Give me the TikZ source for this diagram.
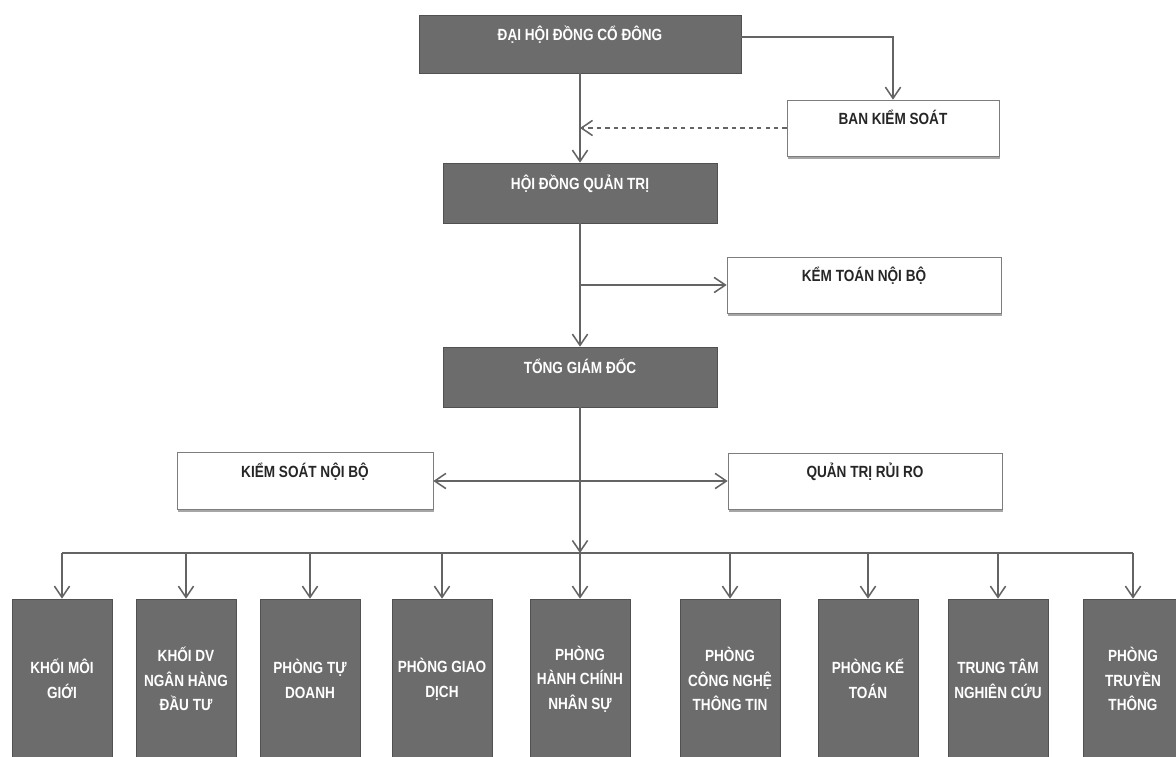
\documentclass[tikz,border=0pt]{standalone}
\usepackage{fontspec}
\setmainfont{Liberation Sans}[FakeStretch=0.84]
\usetikzlibrary{arrows.meta,shadows}

\definecolor{boxgray}{RGB}{108,108,108}
\definecolor{linegray}{RGB}{100,100,100}
\definecolor{edgegray}{RGB}{125,125,125}

\tikzset{
  darkbox/.style={draw=boxgray!75!black, fill=boxgray, text=white,
    font=\bfseries\fontsize{11.5}{14}\selectfont,
    text height=0.29cm, text depth=0.45cm,
    drop shadow={shadow xshift=0.8pt, shadow yshift=-1pt, fill=gray!60, opacity=1}},
  whitebox/.style={draw=edgegray, fill=white, text=black!85,
    font=\bfseries\fontsize{11.5}{14}\selectfont,
    text height=0.29cm, text depth=0.45cm,
    drop shadow={shadow xshift=0.8pt, shadow yshift=-1.8pt, fill=gray!70, opacity=1}},
  deptbox/.style={draw=boxgray!75!black, fill=boxgray, text=white, align=center,
    minimum width=2.5cm, minimum height=4cm,
    font=\bfseries\fontsize{11.5}{17.5}\selectfont},
  link/.style={draw=linegray, line width=1.1pt},
}

\begin{document}
\begin{tikzpicture}[x=0.025cm, y=-0.025cm, >={Straight Barb[length=2.8mm, width=3.8mm]}]
  \useasboundingbox (0,0) rectangle (1176,756);

  % governing bodies
  \node [darkbox, minimum width=8.05cm, minimum height=1.45cm] (dhdcd) at (580,44) {ĐẠI HỘI ĐỒNG CỔ ĐÔNG};
  \node [whitebox, minimum width=5.3cm, minimum height=1.4cm] (bks) at (893,128) {BAN KIỂM SOÁT};
  \node [darkbox, minimum width=6.85cm, minimum height=1.5cm] (hdqt) at (580,193) {HỘI ĐỒNG QUẢN TRỊ};
  \node [whitebox, minimum width=6.85cm, minimum height=1.4cm] (ktnb) at (864,285) {KỂM TOÁN NỘI BỘ};
  \node [darkbox, minimum width=6.85cm, minimum height=1.5cm] (tgd) at (580,377) {TỔNG GIÁM ĐỐC};
  \node [whitebox, minimum width=6.4cm, minimum height=1.425cm] (ksnb) at (305,481) {KIỂM SOÁT NỘI BỘ};
  \node [whitebox, minimum width=6.85cm, minimum height=1.4cm] (qtrr) at (865,481) {QUẢN TRỊ RỦI RO};

  % departments
  \node [deptbox] (kmg) at (62,679) {KHỐI MÔI\\GIỚI};
  \node [deptbox] (kdv) at (186,679) {KHỐI DV\\NGÂN HÀNG\\ĐẦU TƯ};
  \node [deptbox] (ptd) at (310,679) {PHÒNG TỰ\\DOANH};
  \node [deptbox] (pgd) at (442,679) {PHÒNG GIAO\\DỊCH};
  \node [deptbox] (phc) at (580,679) {PHÒNG\\HÀNH CHÍNH\\NHÂN SỰ};
  \node [deptbox] (pcn) at (730,679) {PHÒNG\\CÔNG NGHỆ\\THÔNG TIN};
  \node [deptbox] (pkt) at (868,679) {PHÒNG KẾ\\TOÁN};
  \node [deptbox] (ttnc) at (998,679) {TRUNG TÂM\\NGHIÊN CỨU};
  \node [deptbox] (ptt) at (1133,679) {PHÒNG\\TRUYỀN\\THÔNG};

  \coordinate (bus) at (580,553);

  % connectors
  \draw [link, ->] (dhdcd.south) -- (hdqt.north);
  \draw [link, ->] ([yshift=0.18cm]dhdcd.east) -| (bks.north);
  \draw [link, ->, dashed] (bks.west) -- (bks.west -| hdqt.north);
  \draw [link, ->] (hdqt.south) -- (tgd.north);
  \draw [link, ->] (hdqt.south |- ktnb.west) -- (ktnb.west);
  \draw [link, <->] (ksnb.east) -- (qtrr.west);
  \draw [link, ->] (tgd.south) -- (bus);
  \draw [link] (kmg.north |- bus) -- (ptt.north |- bus);
  \draw [link, ->] (kmg.north |- bus) -- (kmg.north);
  \draw [link, ->] (kdv.north |- bus) -- (kdv.north);
  \draw [link, ->] (ptd.north |- bus) -- (ptd.north);
  \draw [link, ->] (pgd.north |- bus) -- (pgd.north);
  \draw [link, ->] (phc.north |- bus) -- (phc.north);
  \draw [link, ->] (pcn.north |- bus) -- (pcn.north);
  \draw [link, ->] (pkt.north |- bus) -- (pkt.north);
  \draw [link, ->] (ttnc.north |- bus) -- (ttnc.north);
  \draw [link, ->] (ptt.north |- bus) -- (ptt.north);
\end{tikzpicture}
\end{document}
